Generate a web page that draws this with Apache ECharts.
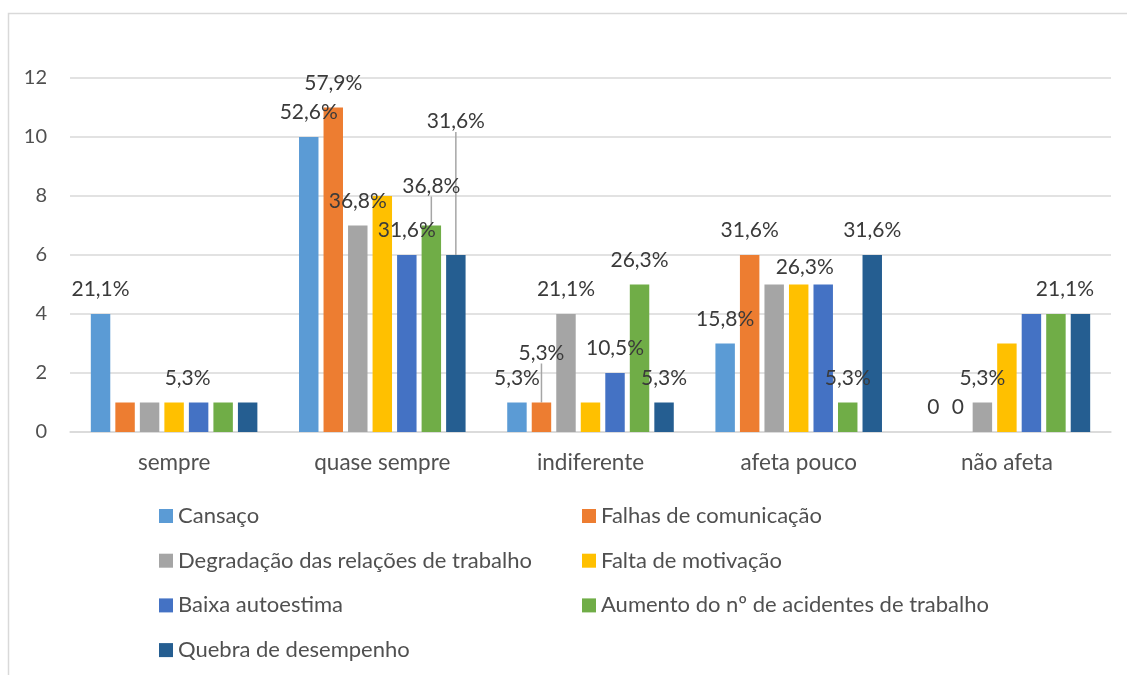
<!DOCTYPE html>
<html>
<head>
<meta charset="utf-8">
<script src="https://cdn.jsdelivr.net/npm/echarts@6/dist/echarts.min.js"></script>
<style>
  html, body { margin: 0; padding: 0; background: #fff; }
  #main { width: 1127px; height: 675px; }
</style>
</head>
<body>
<div id="main"></div>
<script>
  const categories = ['sempre', 'quase sempre', 'indiferente', 'afeta pouco', 'não afeta']
  const yTicks = [0, 2, 4, 6, 8, 10, 12]

  const seriesNames = [
    'Cansaço',
    'Falhas de comunicação',
    'Degradação das relações de trabalho',
    'Falta de motivação',
    'Baixa autoestima',
    'Aumento do nº de acidentes de trabalho',
    'Quebra de desempenho'
  ]

  const cansaco = [4, 10, 1, 3, 0]
  const falhas = [1, 11, 1, 6, 0]
  const degradacao = [1, 7, 4, 5, 1]
  const faltaMotivacao = [1, 8, 1, 5, 3]
  const baixaAutoestima = [1, 6, 2, 5, 4]
  const aumentoAcidentes = [1, 7, 5, 1, 4]
  const quebra = [1, 6, 1, 6, 4]

  // etiquetas visíveis (null = sem etiqueta)
  const cansacoLabels = ['21,1%', '52,6%', '5,3%', '15,8%', '0']
  const falhasLabels = [null, '57,9%', '5,3%', '31,6%', '0']
  const degradacaoLabels = [null, '36,8%', '21,1%', null, '5,3%']
  const faltaLabels = [null, null, null, '26,3%', null]
  const baixaLabels = ['5,3%', '31,6%', '10,5%', null, null]
  const aumentoLabels = [null, '36,8%', '26,3%', '5,3%', '21,1%']
  const quebraLabels = [null, '31,6%', '5,3%', '31,6%', null]

  const values = [cansaco, falhas, degradacao, faltaMotivacao, baixaAutoestima, aumentoAcidentes, quebra]
  const labels = [cansacoLabels, falhasLabels, degradacaoLabels, faltaLabels, baixaLabels, aumentoLabels, quebraLabels]
  const colors = ['#5B9BD5', '#ED7D31', '#A5A5A5', '#FFC000', '#4472C4', '#70AD47', '#255E91']

  // etiquetas deslocadas à mão (série-categoria: [dx, dy, linha])
  const shifts = {
    '4-0': [-11, 0, false],
    '5-1': [0, -15, true],
    '6-1': [0, -109, true],
    '1-2': [0, -25, true],
    '3-3': [6, 7, false],
    '5-4': [9, 0, false]
  }

  const font = 'Lato'

  const series = values.map((vals, s) => ({
    name: seriesNames[s],
    type: 'bar',
    barGap: '26%',
    barCategoryGap: '20%',
    itemStyle: { color: colors[s] },
    label: {
      show: false,
      position: 'top',
      distance: 14,
      color: '#3a3a3a',
      fontFamily: font,
      fontSize: 21,
      lineHeight: 21
    },
    labelLine: { show: false },
    labelLayout: (p) => {
      const sh = shifts[p.seriesIndex + '-' + p.dataIndex]
      return sh ? { dx: sh[0], dy: sh[1] } : {}
    },
    data: vals.map((v, i) => {
      const txt = labels[s][i]
      if (txt == null) return v
      const sh = shifts[s + '-' + i]
      const item = { value: v, label: { show: true, formatter: txt } }
      if (sh && sh[2]) {
        item.labelLine = { show: true, lineStyle: { color: '#A6A6A6', width: 1.5 } }
      }
      return item
    })
  }))

  const legendText = { color: '#505050', fontFamily: font, fontSize: 22, lineHeight: 24 }
  const legendBase = {
    orient: 'vertical',
    top: 499,
    icon: 'rect',
    itemWidth: 14,
    itemHeight: 14,
    itemGap: 20.7,
    textStyle: legendText,
    selectedMode: false
  }

  const chart = echarts.init(document.getElementById('main'))
  chart.setOption({
    animation: false,
    grid: { left: 70, right: 16, top: 78, bottom: 243, containLabel: false },
    legend: [
      Object.assign({}, legendBase, { left: 154, data: [seriesNames[0], seriesNames[2], seriesNames[4], seriesNames[6]] }),
      Object.assign({}, legendBase, { left: 577, data: [seriesNames[1], seriesNames[3], seriesNames[5]] })
    ],
    xAxis: {
      type: 'category',
      data: categories,
      axisLine: { lineStyle: { color: '#D9D9D9', width: 1.5 } },
      axisTick: { show: false },
      axisLabel: { color: '#505050', fontFamily: font, fontSize: 22.5, margin: 19 }
    },
    yAxis: {
      type: 'value',
      min: yTicks[0],
      max: yTicks[yTicks.length - 1],
      interval: 2,
      axisLine: { show: false },
      axisTick: { show: false },
      splitLine: { lineStyle: { color: '#D9D9D9', width: 1.5 } },
      axisLabel: { color: '#505050', fontFamily: font, fontSize: 20, margin: 23 }
    },
    graphic: [
      {
        type: 'polyline',
        shape: { points: [[8.5, 675], [8.5, 13.5], [1127, 13.5]] },
        style: { stroke: '#D9D9D9', lineWidth: 1.5, fill: null },
        silent: true
      }
    ],
    series: series
  })
</script>
</body>
</html>
